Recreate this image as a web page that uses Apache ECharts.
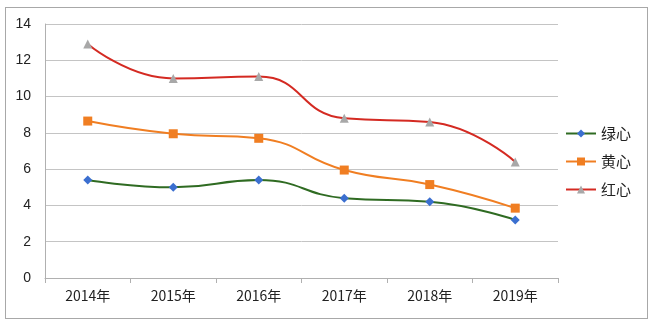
<!DOCTYPE html>
<html><head><meta charset="utf-8">
<script src="https://cdn.jsdelivr.net/npm/echarts@6/dist/echarts.min.js"></script>
<style>html,body{margin:0;padding:0;background:#fff}#c{width:650px;height:328px}
#frame{position:absolute;left:5px;top:7px;width:641px;height:310px;border:1px solid #a8a8a8;pointer-events:none}</style>
</head><body><div id="c"></div><div id="frame"></div>
<script>
const categories = ['2014年','2015年','2016年','2017年','2018年','2019年'];
const green = [5.4, 5.0, 5.4, 4.4, 4.2, 3.2];
const orange = [8.65, 7.95, 7.7, 5.95, 5.15, 3.85];
const red = [12.9, 11.0, 11.1, 8.8, 8.6, 6.4];
const seriesNames = ['绿心','黄心','红心'];
const yTicks = {min:0, max:14, interval:2};

const chart = echarts.init(document.getElementById('c'));
const font = '"Noto Sans CJK SC","Liberation Sans",sans-serif';
function s(name, data, lineColor, markColor, symbol, size){
  return {name, type:'line', data, smooth:0.5, symbol, symbolSize:size,
    lineStyle:{color:lineColor, width:2}, itemStyle:{color:markColor, borderWidth:0},
    color:lineColor};
}
chart.setOption({
  animation:false,
  backgroundColor:'#fff',
  grid:{left:45, right:92, top:24, bottom:50},
  legend:{orient:'vertical', left:560, top:121, itemGap:13, itemWidth:30, itemHeight:10,
    textStyle:{fontFamily:font, fontSize:15, color:'#222'},
    data:seriesNames},
  xAxis:{type:'category', data:categories, boundaryGap:true,
    axisLine:{lineStyle:{color:'#b0b0b0'}}, axisTick:{show:true, length:5, lineStyle:{color:'#b0b0b0'}},
    axisLabel:{fontFamily:font, fontSize:14, color:'#222', margin:11}},
  yAxis:{type:'value', min:yTicks.min, max:yTicks.max, interval:yTicks.interval,
    axisLine:{show:true, lineStyle:{color:'#b0b0b0'}}, axisTick:{show:false},
    splitLine:{lineStyle:{color:'#c4c4c4', width:1}},
    axisLabel:{fontFamily:'"Liberation Sans",sans-serif', fontSize:14, color:'#222', margin:14}},
  series:[
    s(seriesNames[0], green, '#2f6b22', '#3b6fd0', 'diamond', 9),
    s(seriesNames[1], orange, '#f07e22', '#f07e22', 'rect', 9),
    s(seriesNames[2], red, '#d42a22', '#a8a8a8', 'triangle', 9)
  ]
});
</script></body></html>
